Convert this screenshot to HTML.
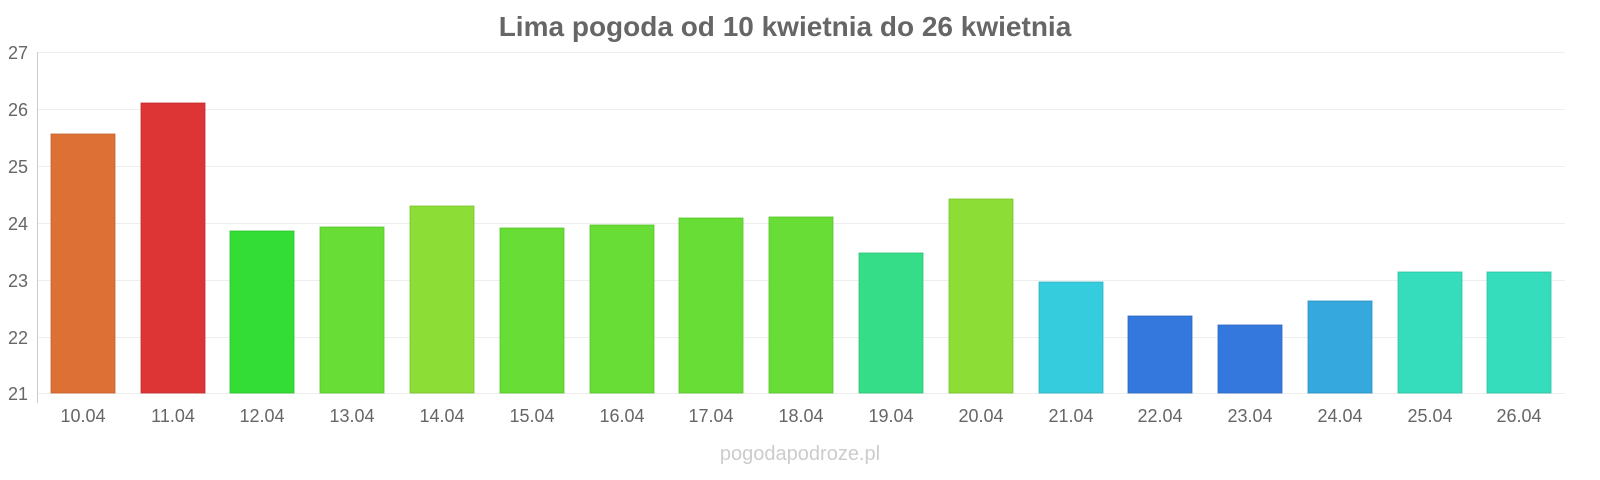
<!DOCTYPE html>
<html><head><meta charset="utf-8"><style>body{margin:0;background:#fff}svg{display:block}</style></head><body>
<svg width="1600" height="480" xmlns="http://www.w3.org/2000/svg" font-family="Liberation Sans, sans-serif">
<rect width="1600" height="480" fill="#fff"/>
<text x="785" y="36" text-anchor="middle" font-size="28" font-weight="bold" fill="#666">Lima pogoda od 10 kwietnia do 26 kwietnia</text>
<g stroke="#eee" stroke-width="1">
<line x1="37" x2="1565" y1="52.5" y2="52.5"/><line x1="37" x2="1565" y1="109.5" y2="109.5"/><line x1="37" x2="1565" y1="166.5" y2="166.5"/><line x1="37" x2="1565" y1="223.5" y2="223.5"/><line x1="37" x2="1565" y1="280.5" y2="280.5"/><line x1="37" x2="1565" y1="337.5" y2="337.5"/><line x1="37" x2="1565" y1="393.5" y2="393.5"/>
</g>
<line x1="37.5" x2="37.5" y1="52" y2="403" stroke="#ccc"/>
<g font-size="18" fill="#666" text-anchor="end">
<text x="28" y="59">27</text><text x="28" y="116">26</text><text x="28" y="173">25</text><text x="28" y="230">24</text><text x="28" y="287">23</text><text x="28" y="344">22</text><text x="28" y="400">21</text>
</g>
<g stroke-width="1" stroke-opacity="0.8">
<rect x="51" y="134" width="64" height="259" fill="#dd7135" stroke="#c0602c"/>
<rect x="141" y="103" width="64" height="290" fill="#dd3535" stroke="#c02c2c"/>
<rect x="230" y="231" width="64" height="162" fill="#34dd35" stroke="#2cc02c"/>
<rect x="320" y="227" width="64" height="166" fill="#67dd35" stroke="#58c02c"/>
<rect x="410" y="206" width="64" height="187" fill="#8cdd35" stroke="#79c02c"/>
<rect x="500" y="228" width="64" height="165" fill="#67dd35" stroke="#58c02c"/>
<rect x="590" y="225" width="64" height="168" fill="#67dd35" stroke="#58c02c"/>
<rect x="679" y="218" width="64" height="175" fill="#67dd35" stroke="#58c02c"/>
<rect x="769" y="217" width="64" height="176" fill="#67dd35" stroke="#58c02c"/>
<rect x="859" y="253" width="64" height="140" fill="#35dd88" stroke="#2cc075"/>
<rect x="949" y="199" width="64" height="194" fill="#8cdd35" stroke="#79c02c"/>
<rect x="1039" y="282" width="64" height="111" fill="#35cddd" stroke="#2cb0c0"/>
<rect x="1128" y="316" width="64" height="77" fill="#3578dd" stroke="#2c66c0"/>
<rect x="1218" y="325" width="64" height="68" fill="#3578dd" stroke="#2c66c0"/>
<rect x="1308" y="301" width="64" height="92" fill="#35a8dd" stroke="#2c90c0"/>
<rect x="1398" y="272" width="64" height="121" fill="#35ddbd" stroke="#2cc0a3"/>
<rect x="1487" y="272" width="64" height="121" fill="#35ddbd" stroke="#2cc0a3"/>
</g>
<g font-size="18" fill="#666" text-anchor="middle">
<text x="83" y="422">10.04</text><text x="173" y="422">11.04</text><text x="262" y="422">12.04</text><text x="352" y="422">13.04</text><text x="442" y="422">14.04</text><text x="532" y="422">15.04</text><text x="622" y="422">16.04</text><text x="711" y="422">17.04</text><text x="801" y="422">18.04</text><text x="891" y="422">19.04</text><text x="981" y="422">20.04</text><text x="1071" y="422">21.04</text><text x="1160" y="422">22.04</text><text x="1250" y="422">23.04</text><text x="1340" y="422">24.04</text><text x="1430" y="422">25.04</text><text x="1519" y="422">26.04</text>
</g>
<text x="800" y="460" text-anchor="middle" font-size="20" fill="#ccc">pogodapodroze.pl</text>
</svg>
</body></html>
